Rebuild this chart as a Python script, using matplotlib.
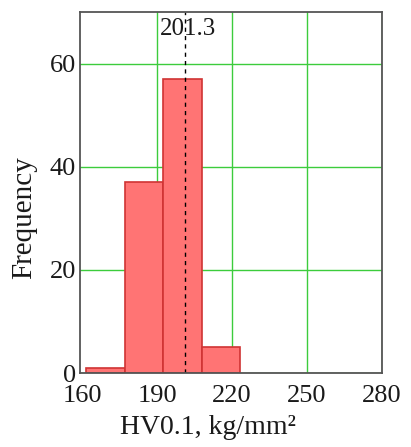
import numpy as np
import matplotlib
matplotlib.use("Agg")
import matplotlib.pyplot as plt

# Histogram of micro-hardness readings
bin_edges = [161.6, 177.0, 192.4, 207.8, 223.2]
counts = [1, 37, 57, 5]
mean_value = 201.3
x_ticks = [160, 190, 220, 250, 280]
y_ticks = [0, 20, 40, 60]

plt.rcParams['font.family'] = ['Liberation Serif', 'DejaVu Serif']

fig = plt.figure(figsize=(4.11, 4.47), dpi=100)
ax = fig.add_axes([80 / 411, 1 - 373 / 447, 302 / 411, 361 / 447])

edges = np.array(bin_edges)
ax.bar(edges[:-1], counts, width=np.diff(edges), align='edge',
       color='#ff7474', edgecolor='#d03434', linewidth=1.2, zorder=2)

ax.axvline(mean_value, color='black', linestyle=(0, (3, 3)), linewidth=1.0, zorder=3)
ax.text(mean_value + 1.0, 66.7, f"{mean_value}", ha='center', va='center',
        fontsize=18, color='#1a1a1a', zorder=4)

ax.set_xlim(159.0, 280.2)
ax.set_ylim(0, 70)
ax.set_xticks(x_ticks)
ax.set_yticks(y_ticks)
ax.grid(True, color='#3ccc3c', linewidth=1.0, zorder=1)
ax.set_axisbelow(True)
# the leftmost vertical grid line sits against the frame; leave it out
ax.get_xgridlines()[0].set_visible(False)
ax.tick_params(length=0, labelsize=19, colors='#1a1a1a')
ax.tick_params(axis='x', pad=9)
ax.tick_params(axis='y', pad=3)

for s in ax.spines.values():
    s.set_color('#555555')
    s.set_linewidth(1.3)
    s.set_zorder(5)

ax.set_ylabel('Frequency', fontsize=21, color='#1a1a1a', va='center')
ax.set_xlabel('HV0.1, kg/mm²', fontsize=20, color='#1a1a1a', va='center')
ax.yaxis.set_label_coords((24 - 80) / 302, (373 - 218) / 361)
ax.xaxis.set_label_coords((208 - 80) / 302, (373 - 427) / 361)

fig.savefig('out.png', dpi=100)
